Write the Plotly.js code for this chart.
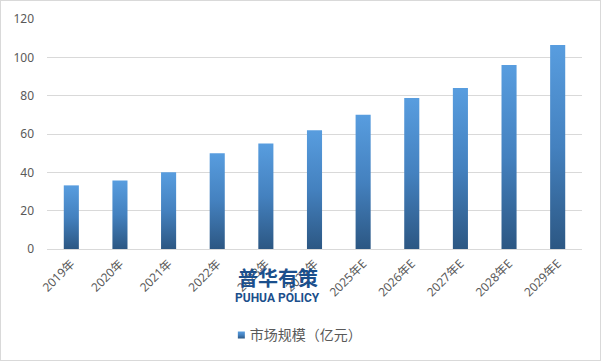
<!DOCTYPE html>
<html>
<head>
<meta charset="utf-8">
<script src="https://cdn.plot.ly/plotly-3.0.1.min.js"></script>
<style>
html,body{margin:0;padding:0;background:#fff;}
#chart{width:601px;height:361px;outline:1px solid #d9d9d9;outline-offset:-1px;}
</style>
</head>
<body>
<div id="chart"></div>
<script>
const categories = ["2019年","2020年","2021年","2022年","2023年","2024年","2025年E","2026年E","2027年E","2028年E","2029年E"];
const marketSize = [33.2, 35.8, 40, 50, 55, 62, 70, 78.8, 84, 96, 106.4];
const seriesName = "市场规模（亿元）";
const yTicks = [0, 20, 40, 60, 80, 100, 120];

const W = 601, H = 361, L = 47, R = 18.5, T = 19, B = 111;
const pw = W - L - R, ph = H - T - B;
const px = x => (x - L) / pw;
const py = y => (H - B - y) / ph;

const trace = {
  type: "bar",
  x: categories,
  y: marketSize,
  name: seriesName,
  marker: {color: "#4682c0", line: {width: 0}},
  hoverinfo: "x+y"
};

const font = "'Noto Sans', 'Noto Sans CJK SC', sans-serif";

const layout = {
  width: W, height: H,
  margin: {l: L, r: R, t: T, b: B},
  paper_bgcolor: "rgba(0,0,0,0)",
  plot_bgcolor: "#fff",
  bargap: 0.69,
  showlegend: true,
  legend: {
    orientation: "h", x: px(210), xanchor: "left", y: py(335), yanchor: "middle",
    font: {family: "'Noto Sans CJK SC', sans-serif", size: 14, color: "#595959"}, itemwidth: 30
  },
  xaxis: {
    type: "category",
    tickangle: -45,
    tickfont: {family: font, size: 12, color: "#595959"},
    showgrid: false,
    showline: true, linecolor: "#d9d9d9", linewidth: 1,
    ticks: "", ticklabelstandoff: 2
  },
  yaxis: {
    range: [0, 120],
    tickvals: yTicks,
    tickfont: {family: font, size: 12, color: "#595959"},
    gridcolor: "#d9d9d9", gridwidth: 1,
    zeroline: false, showline: false, ticks: "",
    ticklabelstandoff: 12
  },
  annotations: [
    {xref: "paper", yref: "paper", x: px(278), y: py(279), xanchor: "center", yanchor: "middle",
     text: "<b>普华有策</b>", showarrow: false,
     font: {family: "'Noto Sans CJK SC', sans-serif", size: 20, color: "#1b4f8c"}},
    {xref: "paper", yref: "paper", x: px(278), y: py(299.5), xanchor: "center", yanchor: "middle",
     text: "<b>PUHUA POLICY</b>", showarrow: false,
     font: {family: "'Liberation Sans Narrow', 'Roboto', sans-serif", size: 12, color: "#1b4f8c"}}
  ]
};

Plotly.newPlot("chart", [trace], layout, {displayModeBar: false, staticPlot: true}).then(gd => {
  const svg = gd.querySelector("svg.main-svg");
  const ns = "http://www.w3.org/2000/svg";
  let defs = svg.querySelector("defs");
  const grad = document.createElementNS(ns, "linearGradient");
  grad.setAttribute("id", "barGrad");
  grad.setAttribute("x1", "0"); grad.setAttribute("y1", "0");
  grad.setAttribute("x2", "0"); grad.setAttribute("y2", "1");
  [["0", "#589ddf"], ["0.5", "#4481bf"], ["1", "#2c5783"]].forEach(([o, c]) => {
    const s = document.createElementNS(ns, "stop");
    s.setAttribute("offset", o); s.setAttribute("stop-color", c);
    grad.appendChild(s);
  });
  defs.appendChild(grad);
  gd.querySelectorAll(".barlayer .point path").forEach(p => { p.style.fill = "url(#barGrad)"; });
  const txt = gd.querySelector(".legend .legendtext");
  gd.querySelectorAll(".legendpoints path").forEach(p => {
    p.setAttribute("d", "M3.5,3.5H-3.5V-3.5H3.5Z");
    p.style.fill = "url(#barGrad)";
    p.style.strokeWidth = "0";
    const pr = p.getBoundingClientRect();
    const tr = txt.getBoundingClientRect();
    const cx = pr.left + pr.width / 2, cy = pr.top + pr.height / 2;
    const tx = (tr.left - 8.5) - cx;
    const ty = (tr.top + tr.height / 2 + 1) - cy;
    const old = p.getAttribute("transform") || "";
    p.setAttribute("transform", "translate(" + tx + "," + ty + ") " + old);
  });
});
</script>
</body>
</html>
